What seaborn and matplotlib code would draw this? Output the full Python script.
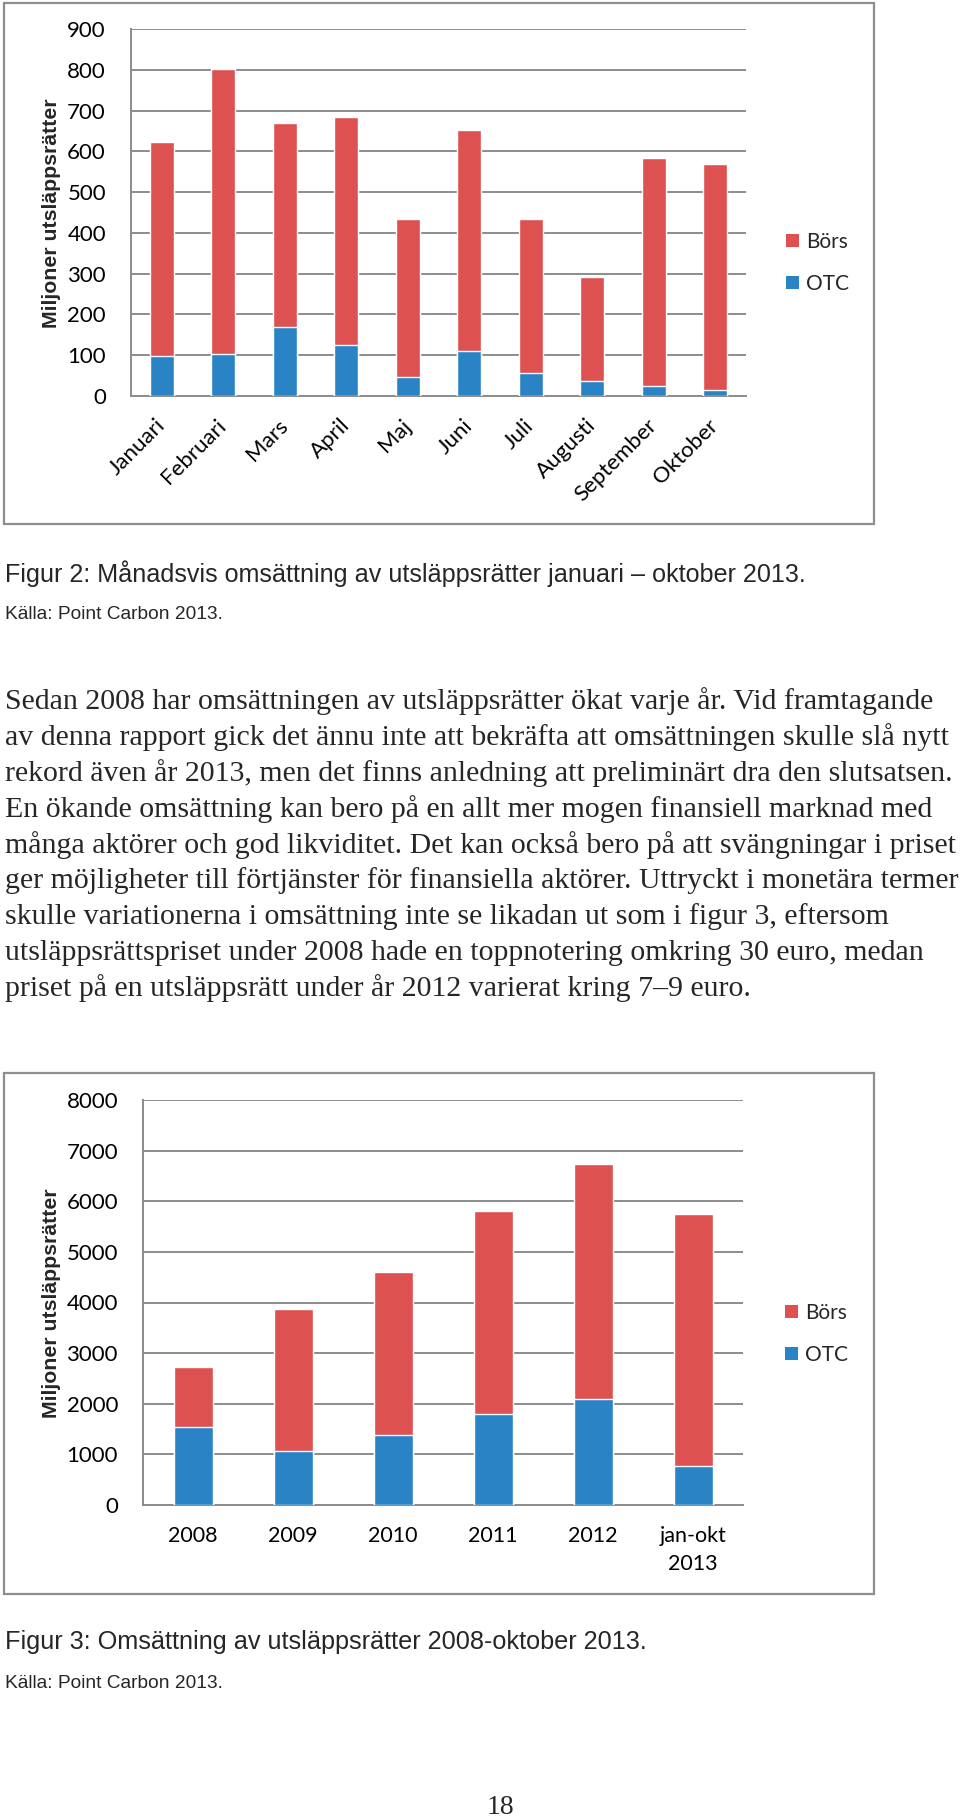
import numpy as np
import pandas as pd
import matplotlib
matplotlib.use("Agg")
import matplotlib.pyplot as plt
from matplotlib.patches import Rectangle, Patch
import seaborn as sns

# ---------------- data ----------------
months = ["Januari", "Februari", "Mars", "April", "Maj", "Juni", "Juli",
          "Augusti", "September", "Oktober"]
otc_month = [97, 102, 169, 126, 47, 110, 56, 36, 24, 14]
bors_month = [525, 701, 500, 557, 388, 543, 378, 257, 560, 554]

years = ["2008", "2009", "2010", "2011", "2012", "jan-okt\n2013"]
otc_year = [1541, 1067, 1378, 1795, 2092, 777]
bors_year = [1180, 2799, 3216, 4007, 4650, 4969]

series_labels = ["Börs", "OTC"]
ylabel = "Miljoner utsläppsrätter"

caption2 = "Figur 2: Månadsvis omsättning av utsläppsrätter januari – oktober 2013."
caption3 = "Figur 3: Omsättning av utsläppsrätter 2008-oktober 2013."
source = "Källa: Point Carbon 2013."
body = [
    "Sedan 2008 har omsättningen av utsläppsrätter ökat varje år. Vid framtagande",
    "av denna rapport gick det ännu inte att bekräfta att omsättningen skulle slå nytt",
    "rekord även år 2013, men det finns anledning att preliminärt dra den slutsatsen.",
    "En ökande omsättning kan bero på en allt mer mogen finansiell marknad med",
    "många aktörer och god likviditet. Det kan också bero på att svängningar i priset",
    "ger möjligheter till förtjänster för finansiella aktörer. Uttryckt i monetära termer",
    "skulle variationerna i omsättning inte se likadan ut som i figur 3, eftersom",
    "utsläppsrättspriset under 2008 hade en toppnotering omkring 30 euro, medan",
    "priset på en utsläppsrätt under år 2012 varierat kring 7–9 euro.",
]
page_number = "18"

# ---------------- style ----------------
RED = "#DD5150"
BLUE = "#2A83C5"
GRID = "#8C8C8C"
BOXC = "#8E8E8E"
CHART_FONT = ["Lato", "DejaVu Sans"]

sns.set_style("white")
plt.rcParams["font.family"] = CHART_FONT

W, H = 960, 1819
fig = plt.figure(figsize=(W / 100, H / 100), dpi=100)


def rect(l, t, r, b):
    return [l / W, 1 - b / H, (r - l) / W, (b - t) / H]


def fy(y):
    return 1 - y / H


def draw_chart(ax, cats, otc, bors, ymax, ystep, rot):
    total = [o + b for o, b in zip(otc, bors)]
    df = pd.DataFrame({"cat": cats, "total": total, "otc": otc})
    sns.barplot(data=df, x="cat", y="total", color=RED, saturation=1,
                width=0.39, errorbar=None, ax=ax, zorder=3)
    sns.barplot(data=df, x="cat", y="otc", color=BLUE, saturation=1,
                width=0.39, errorbar=None, ax=ax, zorder=3)
    n = len(cats)
    ax.set_xlim(-0.5, n - 0.5)
    ax.set_ylim(0, ymax)
    ax.set_yticks(np.arange(0, ymax + 1, ystep))
    ax.yaxis.grid(True, color=GRID, lw=1.4, zorder=0)
    ax.set_axisbelow(True)
    for s in ["top", "right"]:
        ax.spines[s].set_visible(False)
    for s in ["left", "bottom"]:
        ax.spines[s].set_color(GRID)
        ax.spines[s].set_linewidth(1.4)
    ax.set_xlabel("")
    ax.set_ylabel("")
    ax.tick_params(axis="y", length=8, width=1.4, color=GRID, pad=10,
                   labelsize=16, labelcolor="black")
    ax.set_xticks(np.arange(-0.5, n, 1.0), minor=True)
    ax.tick_params(axis="x", which="minor", length=7, width=1.4, color=GRID)
    ax.tick_params(axis="x", which="major", length=0, labelsize=15.5,
                   labelcolor="black")
    if rot:
        ax.tick_params(axis="x", which="major", pad=19, labelsize=16)
        for lab in ax.get_xticklabels():
            lab.set_rotation(45)
            lab.set_ha("right")
            lab.set_va("center")
            lab.set_rotation_mode("anchor")
    else:
        ax.tick_params(axis="x", which="major", pad=15)
        for lab in ax.get_xticklabels():
            lab.set_linespacing(1.5)


def legend(x, y_top):
    handles = [Patch(facecolor=RED, edgecolor="none"),
               Patch(facecolor=BLUE, edgecolor="none")]
    fig.legend(handles, series_labels, loc="upper left",
               bbox_to_anchor=(x / W, fy(y_top)), frameon=False,
               fontsize=15, handlelength=0.6, handleheight=0.6,
               handletextpad=0.35, labelspacing=1.05, borderpad=0,
               borderaxespad=0)


# chart boxes
for (l, t, r, b) in [(4, 3, 874, 524), (4, 1073, 874, 1594)]:
    fig.patches.append(Rectangle((l / W, 1 - b / H), (r - l) / W, (b - t) / H,
                                 transform=fig.transFigure, fill=False,
                                 edgecolor=BOXC, lw=1.6))

ax1 = fig.add_axes(rect(131, 29, 746, 396))
draw_chart(ax1, months, otc_month, bors_month, 900, 100, True)
legend(786, 232)
fig.text(52 / W, fy(213), ylabel, rotation=90, ha="center", va="center",
         fontsize=15.3, fontweight="bold", family="Liberation Sans")

ax2 = fig.add_axes(rect(143, 1100, 743, 1505))
draw_chart(ax2, years, otc_year, bors_year, 8000, 1000, False)
legend(785, 1303)
fig.text(52 / W, fy(1303), ylabel, rotation=90, ha="center", va="center",
         fontsize=15.3, fontweight="bold", family="Liberation Sans")

# captions
fig.text(5 / W, fy(582), caption2, ha="left", va="baseline", fontsize=18.05,
         family="Liberation Sans")
fig.text(5 / W, fy(619), source, ha="left", va="baseline", fontsize=13.8,
         family="Liberation Sans")
fig.text(5 / W, fy(1649), caption3, ha="left", va="baseline", fontsize=18.2,
         family="Liberation Sans")
fig.text(5 / W, fy(1688), source, ha="left", va="baseline", fontsize=13.8,
         family="Liberation Sans")

# body text
y0 = 709
for i, line in enumerate(body):
    fig.text(5 / W, fy(y0 + i * 35.9), line, ha="left", va="baseline",
             fontsize=21.5, family="Liberation Serif")

fig.text(500 / W, fy(1814), page_number, ha="center", va="baseline",
         fontsize=20, family="Liberation Serif")

fig.savefig("out.png", dpi=100, facecolor="white")
